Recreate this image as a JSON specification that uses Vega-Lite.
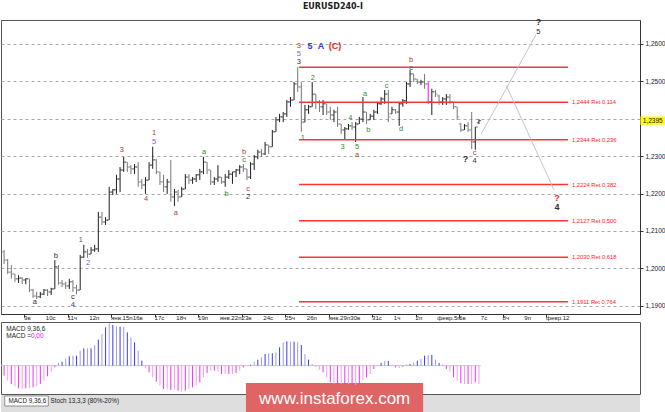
{
  "$schema": "https://vega.github.io/schema/vega-lite/v6.json",
  "padding": {"left": 0, "top": 3, "right": 0, "bottom": 0},
  "background": "white",
  "title": {"text": "EURUSD240-I", "fontSize": 8, "fontWeight": "bold", "font": "DejaVu Sans", "anchor": "middle", "offset": 6, "color": "#202020"},
  "config": {"view": {"stroke": "#555555"}, "font": "Liberation Sans"},
  "spacing": 8,
  "bounds": "flush",
  "datasets": {
    "bars": [
      {"i":0,"o":1.2044,"h":1.2049,"l":1.2012,"c":1.2022},
      {"i":1,"o":1.2022,"h":1.2025,"l":1.1985,"c":1.1990},
      {"i":2,"o":1.1990,"h":1.2009,"l":1.1972,"c":1.1985},
      {"i":3,"o":1.1985,"h":1.1985,"l":1.1964,"c":1.1972},
      {"i":4,"o":1.1972,"h":1.1982,"l":1.1961,"c":1.1974},
      {"i":5,"o":1.1974,"h":1.1977,"l":1.1958,"c":1.1969},
      {"i":6,"o":1.1969,"h":1.1974,"l":1.1958,"c":1.1972},
      {"i":7,"o":1.1972,"h":1.1972,"l":1.1937,"c":1.1942},
      {"i":8,"o":1.1942,"h":1.1945,"l":1.1921,"c":1.1926},
      {"i":9,"o":1.1926,"h":1.1937,"l":1.1918,"c":1.1924},
      {"i":10,"o":1.1924,"h":1.1937,"l":1.1921,"c":1.1931},
      {"i":11,"o":1.1931,"h":1.1945,"l":1.1929,"c":1.1942},
      {"i":12,"o":1.1942,"h":1.1945,"l":1.1926,"c":1.1937},
      {"i":13,"o":1.1937,"h":1.1948,"l":1.1929,"c":1.1945},
      {"i":14,"o":1.1945,"h":1.2022,"l":1.1945,"c":1.2004},
      {"i":15,"o":1.2004,"h":1.2009,"l":1.1956,"c":1.1961},
      {"i":16,"o":1.1961,"h":1.1969,"l":1.1950,"c":1.1958},
      {"i":17,"o":1.1958,"h":1.1964,"l":1.1945,"c":1.1953},
      {"i":18,"o":1.1953,"h":1.1972,"l":1.1945,"c":1.1964},
      {"i":19,"o":1.1964,"h":1.1969,"l":1.1937,"c":1.1948},
      {"i":20,"o":1.1948,"h":1.1956,"l":1.1931,"c":1.1942},
      {"i":21,"o":1.1942,"h":1.2036,"l":1.1942,"c":1.2030},
      {"i":22,"o":1.2030,"h":1.2063,"l":1.2028,"c":1.2044},
      {"i":23,"o":1.2044,"h":1.2052,"l":1.2028,"c":1.2038},
      {"i":24,"o":1.2038,"h":1.2057,"l":1.2038,"c":1.2049},
      {"i":25,"o":1.2049,"h":1.2063,"l":1.2044,"c":1.2052},
      {"i":26,"o":1.2052,"h":1.2151,"l":1.2044,"c":1.2137},
      {"i":27,"o":1.2137,"h":1.2151,"l":1.2116,"c":1.2124},
      {"i":28,"o":1.2124,"h":1.2137,"l":1.2116,"c":1.2129},
      {"i":29,"o":1.2129,"h":1.2218,"l":1.2129,"c":1.2204},
      {"i":30,"o":1.2204,"h":1.2212,"l":1.2196,"c":1.2210},
      {"i":31,"o":1.2210,"h":1.2250,"l":1.2199,"c":1.2239},
      {"i":32,"o":1.2239,"h":1.2271,"l":1.2204,"c":1.2263},
      {"i":33,"o":1.2263,"h":1.2298,"l":1.2258,"c":1.2284},
      {"i":34,"o":1.2284,"h":1.2284,"l":1.2258,"c":1.2271},
      {"i":35,"o":1.2271,"h":1.2276,"l":1.2252,"c":1.2266},
      {"i":36,"o":1.2266,"h":1.2279,"l":1.2252,"c":1.2271},
      {"i":37,"o":1.2271,"h":1.2284,"l":1.2218,"c":1.2231},
      {"i":38,"o":1.2231,"h":1.2239,"l":1.2212,"c":1.2223},
      {"i":39,"o":1.2223,"h":1.2244,"l":1.2199,"c":1.2236},
      {"i":40,"o":1.2236,"h":1.2284,"l":1.2236,"c":1.2276},
      {"i":41,"o":1.2276,"h":1.2325,"l":1.2266,"c":1.2290},
      {"i":42,"o":1.2290,"h":1.2292,"l":1.2252,"c":1.2258},
      {"i":43,"o":1.2258,"h":1.2258,"l":1.2223,"c":1.2231},
      {"i":44,"o":1.2231,"h":1.2250,"l":1.2204,"c":1.2218},
      {"i":45,"o":1.2218,"h":1.2239,"l":1.2199,"c":1.2231},
      {"i":46,"o":1.2231,"h":1.2290,"l":1.2178,"c":1.2191},
      {"i":47,"o":1.2191,"h":1.2212,"l":1.2167,"c":1.2204},
      {"i":48,"o":1.2204,"h":1.2210,"l":1.2178,"c":1.2191},
      {"i":49,"o":1.2191,"h":1.2218,"l":1.2191,"c":1.2212},
      {"i":50,"o":1.2212,"h":1.2252,"l":1.2212,"c":1.2244},
      {"i":51,"o":1.2244,"h":1.2252,"l":1.2226,"c":1.2236},
      {"i":52,"o":1.2236,"h":1.2244,"l":1.2226,"c":1.2239},
      {"i":53,"o":1.2239,"h":1.2252,"l":1.2231,"c":1.2250},
      {"i":54,"o":1.2250,"h":1.2266,"l":1.2236,"c":1.2258},
      {"i":55,"o":1.2258,"h":1.2298,"l":1.2252,"c":1.2284},
      {"i":56,"o":1.2284,"h":1.2284,"l":1.2252,"c":1.2263},
      {"i":57,"o":1.2263,"h":1.2263,"l":1.2223,"c":1.2231},
      {"i":58,"o":1.2231,"h":1.2244,"l":1.2223,"c":1.2239},
      {"i":59,"o":1.2239,"h":1.2276,"l":1.2231,"c":1.2244},
      {"i":60,"o":1.2244,"h":1.2244,"l":1.2226,"c":1.2231},
      {"i":61,"o":1.2231,"h":1.2252,"l":1.2218,"c":1.2244},
      {"i":62,"o":1.2244,"h":1.2263,"l":1.2239,"c":1.2252},
      {"i":63,"o":1.2252,"h":1.2258,"l":1.2226,"c":1.2258},
      {"i":64,"o":1.2258,"h":1.2266,"l":1.2244,"c":1.2263},
      {"i":65,"o":1.2263,"h":1.2276,"l":1.2252,"c":1.2271},
      {"i":66,"o":1.2271,"h":1.2279,"l":1.2258,"c":1.2266},
      {"i":67,"o":1.2266,"h":1.2266,"l":1.2236,"c":1.2244},
      {"i":68,"o":1.2244,"h":1.2284,"l":1.2239,"c":1.2279},
      {"i":69,"o":1.2279,"h":1.2303,"l":1.2263,"c":1.2298},
      {"i":70,"o":1.2298,"h":1.2317,"l":1.2292,"c":1.2311},
      {"i":71,"o":1.2311,"h":1.2319,"l":1.2298,"c":1.2306},
      {"i":72,"o":1.2306,"h":1.2338,"l":1.2303,"c":1.2330},
      {"i":73,"o":1.2330,"h":1.2330,"l":1.2306,"c":1.2325},
      {"i":74,"o":1.2325,"h":1.2370,"l":1.2325,"c":1.2365},
      {"i":75,"o":1.2365,"h":1.2405,"l":1.2365,"c":1.2397},
      {"i":76,"o":1.2397,"h":1.2413,"l":1.2391,"c":1.2405},
      {"i":77,"o":1.2405,"h":1.2418,"l":1.2391,"c":1.2413},
      {"i":78,"o":1.2413,"h":1.2450,"l":1.2405,"c":1.2445},
      {"i":79,"o":1.2445,"h":1.2458,"l":1.2432,"c":1.2450},
      {"i":80,"o":1.2450,"h":1.2498,"l":1.2450,"c":1.2493},
      {"i":81,"o":1.2493,"h":1.2538,"l":1.2472,"c":1.2485},
      {"i":82,"o":1.2485,"h":1.2498,"l":1.2365,"c":1.2391},
      {"i":83,"o":1.2391,"h":1.2437,"l":1.2391,"c":1.2424},
      {"i":84,"o":1.2424,"h":1.2437,"l":1.2413,"c":1.2432},
      {"i":85,"o":1.2432,"h":1.2498,"l":1.2432,"c":1.2466},
      {"i":86,"o":1.2466,"h":1.2466,"l":1.2426,"c":1.2445},
      {"i":87,"o":1.2445,"h":1.2450,"l":1.2418,"c":1.2432},
      {"i":88,"o":1.2432,"h":1.2450,"l":1.2410,"c":1.2440},
      {"i":89,"o":1.2440,"h":1.2440,"l":1.2410,"c":1.2418},
      {"i":90,"o":1.2418,"h":1.2432,"l":1.2397,"c":1.2410},
      {"i":91,"o":1.2410,"h":1.2424,"l":1.2391,"c":1.2418},
      {"i":92,"o":1.2418,"h":1.2432,"l":1.2378,"c":1.2386},
      {"i":93,"o":1.2386,"h":1.2386,"l":1.2359,"c":1.2370},
      {"i":94,"o":1.2370,"h":1.2378,"l":1.2346,"c":1.2373},
      {"i":95,"o":1.2373,"h":1.2386,"l":1.2370,"c":1.2381},
      {"i":96,"o":1.2381,"h":1.2391,"l":1.2370,"c":1.2378},
      {"i":97,"o":1.2378,"h":1.2391,"l":1.2338,"c":1.2386},
      {"i":98,"o":1.2386,"h":1.2405,"l":1.2386,"c":1.2399},
      {"i":99,"o":1.2399,"h":1.2458,"l":1.2391,"c":1.2418},
      {"i":100,"o":1.2418,"h":1.2418,"l":1.2386,"c":1.2397},
      {"i":101,"o":1.2397,"h":1.2413,"l":1.2397,"c":1.2407},
      {"i":102,"o":1.2407,"h":1.2424,"l":1.2397,"c":1.2418},
      {"i":103,"o":1.2418,"h":1.2445,"l":1.2413,"c":1.2440},
      {"i":104,"o":1.2440,"h":1.2458,"l":1.2437,"c":1.2453},
      {"i":105,"o":1.2453,"h":1.2477,"l":1.2440,"c":1.2466},
      {"i":106,"o":1.2466,"h":1.2477,"l":1.2391,"c":1.2405},
      {"i":107,"o":1.2413,"h":1.2432,"l":1.2413,"c":1.2424},
      {"i":108,"o":1.2424,"h":1.2426,"l":1.2413,"c":1.2418},
      {"i":109,"o":1.2418,"h":1.2445,"l":1.2381,"c":1.2440},
      {"i":110,"o":1.2440,"h":1.2453,"l":1.2432,"c":1.2448},
      {"i":111,"o":1.2448,"h":1.2498,"l":1.2440,"c":1.2493},
      {"i":112,"o":1.2493,"h":1.2530,"l":1.2485,"c":1.2520},
      {"i":113,"o":1.2520,"h":1.2520,"l":1.2498,"c":1.2506},
      {"i":114,"o":1.2506,"h":1.2506,"l":1.2493,"c":1.2498},
      {"i":115,"o":1.2498,"h":1.2504,"l":1.2490,"c":1.2498},
      {"i":116,"o":1.2498,"h":1.2520,"l":1.2480,"c":1.2493},
      {"i":117,"o":1.2493,"h":1.2498,"l":1.2440,"c":1.2445},
      {"i":118,"o":1.2445,"h":1.2480,"l":1.2410,"c":1.2472},
      {"i":119,"o":1.2472,"h":1.2477,"l":1.2458,"c":1.2466},
      {"i":120,"o":1.2461,"h":1.2464,"l":1.2437,"c":1.2445},
      {"i":121,"o":1.2445,"h":1.2458,"l":1.2437,"c":1.2453},
      {"i":122,"o":1.2453,"h":1.2466,"l":1.2437,"c":1.2458},
      {"i":123,"o":1.2458,"h":1.2466,"l":1.2440,"c":1.2445},
      {"i":124,"o":1.2445,"h":1.2445,"l":1.2426,"c":1.2432},
      {"i":125,"o":1.2432,"h":1.2432,"l":1.2397,"c":1.2405},
      {"i":126,"o":1.2386,"h":1.2389,"l":1.2365,"c":1.2370},
      {"i":127,"o":1.2370,"h":1.2386,"l":1.2370,"c":1.2381},
      {"i":128,"o":1.2381,"h":1.2391,"l":1.2365,"c":1.2370},
      {"i":129,"o":1.2370,"h":1.2418,"l":1.2319,"c":1.2338},
      {"i":130,"o":1.2338,"h":1.2378,"l":1.2317,"c":1.2378},
      {"i":131,"o":1.2389,"h":1.2399,"l":1.2386,"c":1.2395}
    ],
    "macd": [
      {"i":0,"v":-30},{"i":1,"v":-45},{"i":2,"v":-55},{"i":3,"v":-62},{"i":4,"v":-68},{"i":5,"v":-70},{"i":6,"v":-68},{"i":7,"v":-67},{"i":8,"v":-65},{"i":9,"v":-62},{"i":10,"v":-55},{"i":11,"v":-45},{"i":12,"v":-32},{"i":13,"v":-18},{"i":14,"v":-5},
      {"i":15,"v":8},{"i":16,"v":12},{"i":17,"v":22},{"i":18,"v":28},{"i":19,"v":30},{"i":20,"v":30},{"i":21,"v":45},{"i":22,"v":52},{"i":23,"v":52},{"i":24,"v":52},{"i":25,"v":62},{"i":26,"v":78},{"i":27,"v":95},{"i":28,"v":115},{"i":29,"v":127},{"i":30,"v":122},{"i":31,"v":118},{"i":32,"v":117},{"i":33,"v":116},{"i":34,"v":100},{"i":35,"v":85},{"i":36,"v":70},{"i":37,"v":45},{"i":38,"v":15},
      {"i":39,"v":-8},{"i":40,"v":-20},{"i":41,"v":-35},{"i":42,"v":-48},{"i":43,"v":-60},{"i":44,"v":-70},{"i":45,"v":-72},{"i":46,"v":-73},{"i":47,"v":-72},{"i":48,"v":-75},{"i":49,"v":-78},{"i":50,"v":-75},{"i":51,"v":-70},{"i":52,"v":-65},{"i":53,"v":-58},{"i":54,"v":-50},{"i":55,"v":-35},{"i":56,"v":-22},{"i":57,"v":-15},{"i":58,"v":-15},{"i":59,"v":-18},{"i":60,"v":-25},{"i":61,"v":-25},{"i":62,"v":-25},{"i":63,"v":-25},{"i":64,"v":-22},{"i":65,"v":-15},{"i":66,"v":-5},{"i":67,"v":-2},
      {"i":68,"v":3},{"i":69,"v":12},{"i":70,"v":18},{"i":71,"v":25},{"i":72,"v":35},{"i":73,"v":37},{"i":74,"v":37},{"i":75,"v":40},{"i":76,"v":55},{"i":77,"v":70},{"i":78,"v":73},{"i":79,"v":72},{"i":80,"v":72},{"i":81,"v":70},{"i":82,"v":62},{"i":83,"v":35},{"i":84,"v":18},{"i":85,"v":5},
      {"i":86,"v":-3},{"i":87,"v":-12},{"i":88,"v":-20},{"i":89,"v":-35},{"i":90,"v":-50},{"i":91,"v":-55},{"i":92,"v":-55},{"i":93,"v":-55},{"i":94,"v":-55},{"i":95,"v":-55},{"i":96,"v":-58},{"i":97,"v":-58},{"i":98,"v":-55},{"i":99,"v":-45},{"i":100,"v":-35},{"i":101,"v":-25},{"i":102,"v":-10},
      {"i":103,"v":2},{"i":104,"v":8},{"i":105,"v":14},{"i":106,"v":14},{"i":107,"v":3},
      {"i":108,"v":-5},{"i":109,"v":-7},{"i":110,"v":-3},
      {"i":111,"v":3},{"i":112,"v":5},{"i":113,"v":10},{"i":114,"v":15},{"i":115,"v":20},{"i":116,"v":30},{"i":117,"v":32},{"i":118,"v":32},{"i":119,"v":18},{"i":120,"v":8},{"i":121,"v":3},
      {"i":122,"v":-10},{"i":123,"v":-18},{"i":124,"v":-35},{"i":125,"v":-45},{"i":126,"v":-52},{"i":127,"v":-55},{"i":128,"v":-55},{"i":129,"v":-55},{"i":130,"v":-50},{"i":131,"v":-55}
    ],
    "days": [
      {"d":5.5,"label":"9в"},{"d":11.5,"label":"10с"},{"d":17.5,"label":"11ч"},{"d":23.5,"label":"12п"},
      {"d":29.5,"label":"янв.15п"},{"d":35.5,"label":"16в"},{"d":41.5,"label":"17с"},{"d":47.5,"label":"18ч"},
      {"d":53.5,"label":"19п"},{"d":59.5,"label":"янв.22п"},{"d":65.5,"label":"23в"},{"d":71.5,"label":"24с"},
      {"d":77.5,"label":"25ч"},{"d":83.5,"label":"26п"},{"d":89.5,"label":"янв.29п"},{"d":95.5,"label":"30в"},
      {"d":101.5,"label":"31с"},{"d":107.5,"label":"1ч"},{"d":113.5,"label":"2п"},{"d":119.5,"label":"февр.5п"},
      {"d":125.5,"label":"6в"},{"d":131.5,"label":"7с"},{"d":137.5,"label":"8ч"},{"d":143.5,"label":"9п"},
      {"d":149.5,"label":"февр.12"}
    ],
    "fibs": [
      {"level":1.2538,"label":""},
      {"level":1.2444,"label":"1,2444 Ret 0,114"},
      {"level":1.2344,"label":"1,2344 Ret 0,236"},
      {"level":1.2224,"label":"1,2224 Ret 0,382"},
      {"level":1.2127,"label":"1,2127 Ret 0,500"},
      {"level":1.2030,"label":"1,2030 Ret 0,618"},
      {"level":1.1911,"label":"1,1911 Ret 0,764"}
    ],
    "forecast": [
      {"i0":131.6,"p0":1.2359,"i1":146.7,"p1":1.2624},
      {"i0":138.5,"p0":1.2490,"i1":151.7,"p1":1.2210}
    ],
    "waves": [
      {"i":8.5,"p":1.1910,"t":"a","deg":"minute"},
      {"i":14.3,"p":1.2033,"t":"b","deg":"minute"},
      {"i":19.0,"p":1.1924,"t":"c","deg":"minute"},
      {"i":19.0,"p":1.1902,"t":"4","deg":"minor"},
      {"i":21.2,"p":1.2076,"t":"1","deg":"minuette"},
      {"i":23.2,"p":1.2014,"t":"2","deg":"alt"},
      {"i":32.5,"p":1.2317,"t":"3","deg":"minuette"},
      {"i":39.2,"p":1.2186,"t":"4","deg":"minuette"},
      {"i":41.4,"p":1.2362,"t":"1","deg":"minuette"},
      {"i":41.4,"p":1.2338,"t":"5","deg":"alt"},
      {"i":47.4,"p":1.2148,"t":"a","deg":"minuette"},
      {"i":55.2,"p":1.2311,"t":"a","deg":"subminuette"},
      {"i":61.4,"p":1.2199,"t":"b","deg":"subminuette"},
      {"i":66.2,"p":1.2311,"t":"b","deg":"minuette"},
      {"i":66.2,"p":1.2290,"t":"c","deg":"subminuette"},
      {"i":67.3,"p":1.2212,"t":"c","deg":"minuette"},
      {"i":67.3,"p":1.2191,"t":"2","deg":"minute"},
      {"i":81.3,"p":1.2595,"t":"3","deg":"minuette"},
      {"i":81.3,"p":1.2573,"t":"5","deg":"alt"},
      {"i":81.3,"p":1.2552,"t":"3","deg":"minute"},
      {"i":82.4,"p":1.2349,"t":"1","deg":"subminuette"},
      {"i":85.2,"p":1.2509,"t":"2","deg":"subminuette"},
      {"i":93.4,"p":1.2325,"t":"3","deg":"subminuette"},
      {"i":95.5,"p":1.2402,"t":"4","deg":"subminuette"},
      {"i":97.4,"p":1.2325,"t":"5","deg":"subminuette"},
      {"i":97.4,"p":1.2303,"t":"a","deg":"minuette"},
      {"i":99.6,"p":1.2466,"t":"a","deg":"subminuette"},
      {"i":100.5,"p":1.2370,"t":"b","deg":"subminuette"},
      {"i":105.5,"p":1.2488,"t":"c","deg":"subminuette"},
      {"i":109.5,"p":1.2373,"t":"d","deg":"subminuette"},
      {"i":112.3,"p":1.2557,"t":"b","deg":"minuette"},
      {"i":112.3,"p":1.2536,"t":"e","deg":"subminuette"},
      {"i":129.8,"p":1.2308,"t":"c","deg":"minuette"},
      {"i":129.8,"p":1.2286,"t":"4","deg":"minute"},
      {"i":147.4,"p":1.2633,"t":"5","deg":"minute"}
    ],
    "bigwaves": [
      {"i":84.4,"p":1.2595,"t":"5","deg":"minor"},
      {"i":87.4,"p":1.2595,"t":"A","deg":"minor"},
      {"i":91.3,"p":1.2595,"t":"(C)","deg":"intermediate"},
      {"i":127.3,"p":1.2293,"t":"?","deg":"minute"},
      {"i":147.4,"p":1.2659,"t":"?","deg":"minute"},
      {"i":152.5,"p":1.2188,"t":"?","deg":"intermediate"},
      {"i":152.5,"p":1.2164,"t":"4","deg":"minute"}
    ],
    "lastprice": [{"price":1.2395,"label":"1,2395"}],
    "panel": [{"zero":0,"name":"MACD 9,36,6","macdlabel":"MACD =","macdvalue":"0,00","tab2":"Stoch 13,3,3 (80%-20%)","site":"www.instaforex.com"}]
  },
  "vconcat": [
    {
      "width": 639,
      "height": 294,
      "layer": [
        {
          "data": {"name": "bars"},
          "mark": {"type": "rule", "strokeWidth": 1},
          "encoding": {
            "x": {"field": "i", "type": "quantitative",
              "scale": {"domain": [-0.845, 175.43], "nice": false, "zero": false},
              "axis": {"orient": "bottom", "title": null, "grid": false, "labels": false,
                "values": [5.5,11.5,17.5,23.5,29.5,35.5,41.5,47.5,53.5,59.5,65.5,71.5,77.5,83.5,89.5,95.5,101.5,107.5,113.5,119.5,125.5,131.5,137.5,143.5,149.5],
                "tickSize": 3, "tickColor": "#333333", "domainColor": "#333333"}},
            "y": {"field": "l", "type": "quantitative",
              "scale": {"domain": [1.1878, 1.2664], "nice": false, "zero": false},
              "axis": {"orient": "right", "title": null,
                "values": [1.19, 1.20, 1.21, 1.22, 1.23, 1.24, 1.25, 1.26],
                "labelExpr": "abs(datum.value - 1.24) < 0.0001 ? '' : replace(format(datum.value, '.4f'), '.', ',')",
                "grid": true, "gridDash": [3, 3], "gridColor": "#a8a8a8", "gridWidth": 1,
                "tickSize": 3, "tickColor": "#333333", "domainColor": "#333333",
                "labelFontSize": 6.5, "labelColor": "#222222", "labelPadding": 2, "labelFont": "Liberation Sans"}},
            "y2": {"field": "h"},
            "color": {"condition": [{"test": "datum.i === 117", "value": "#ff00ff"}, {"test": "datum.c >= datum.o", "value": "#1e1e1e"}], "value": "#767676"}
          }
        },
        {
          "data": {"name": "bars"},
          "mark": {"type": "tick", "orient": "horizontal", "size": 2, "thickness": 1, "xOffset": -1.2},
          "encoding": {
            "x": {"field": "i", "type": "quantitative"},
            "y": {"field": "o", "type": "quantitative"},
            "color": {"condition": [{"test": "datum.i === 117", "value": "#ff00ff"}, {"test": "datum.c >= datum.o", "value": "#1e1e1e"}], "value": "#767676"}
          }
        },
        {
          "data": {"name": "bars"},
          "mark": {"type": "tick", "orient": "horizontal", "size": 2, "thickness": 1, "xOffset": 1.2},
          "encoding": {
            "x": {"field": "i", "type": "quantitative"},
            "y": {"field": "c", "type": "quantitative"},
            "color": {"condition": [{"test": "datum.i === 117", "value": "#ff00ff"}, {"test": "datum.c >= datum.o", "value": "#1e1e1e"}], "value": "#767676"}
          }
        },
        {
          "data": {"name": "days"},
          "mark": {"type": "text", "align": "left", "baseline": "top", "fontSize": 6.1, "color": "#222222", "font": "Liberation Sans"},
          "encoding": {
            "x": {"field": "d", "type": "quantitative"},
            "y": {"datum": 1.18745},
            "text": {"field": "label"}
          }
        },
        {
          "data": {"name": "fibs"},
          "mark": {"type": "rule", "color": "#ff3535", "strokeWidth": 1.5},
          "encoding": {
            "x": {"datum": 81.36},
            "x2": {"datum": 155.57},
            "y": {"field": "level", "type": "quantitative"}
          }
        },
        {
          "data": {"name": "fibs"},
          "mark": {"type": "text", "align": "left", "baseline": "middle", "fontSize": 5.8, "color": "#ff2020", "font": "Liberation Sans"},
          "encoding": {
            "x": {"datum": 156.67},
            "y": {"field": "level", "type": "quantitative"},
            "text": {"field": "label"}
          }
        },
        {
          "data": {"name": "forecast"},
          "mark": {"type": "rule", "color": "#c4c4c4", "strokeWidth": 1},
          "encoding": {
            "x": {"field": "i0", "type": "quantitative"},
            "y": {"field": "p0", "type": "quantitative"},
            "x2": {"field": "i1"},
            "y2": {"field": "p1"}
          }
        },
        {
          "data": {"name": "waves"},
          "mark": {"type": "text", "align": "center", "baseline": "middle", "fontSize": 7.5, "font": "Liberation Sans"},
          "encoding": {
            "x": {"field": "i", "type": "quantitative"},
            "y": {"field": "p", "type": "quantitative"},
            "text": {"field": "t"},
            "color": {"field": "deg", "type": "nominal", "legend": null,
              "scale": {"domain": ["minute", "minor", "minuette", "subminuette", "alt", "intermediate"],
                        "range": ["#303030", "#3535e0", "#a8452a", "#2e8b2e", "#8a5fc8", "#e02828"]}}
          }
        },
        {
          "data": {"name": "bigwaves"},
          "mark": {"type": "text", "align": "center", "baseline": "middle", "fontSize": 9, "fontWeight": "bold", "font": "Liberation Sans"},
          "encoding": {
            "x": {"field": "i", "type": "quantitative"},
            "y": {"field": "p", "type": "quantitative"},
            "text": {"field": "t"},
            "color": {"field": "deg", "type": "nominal", "legend": null}
          }
        },
        {
          "data": {"name": "lastprice"},
          "mark": {"type": "rect", "color": "#ffff00"},
          "encoding": {
            "x": {"datum": 175.55},
            "x2": {"datum": 182.4},
            "y": {"datum": 1.2384},
            "y2": {"datum": 1.2406}
          }
        },
        {
          "data": {"name": "lastprice"},
          "mark": {"type": "text", "align": "left", "baseline": "middle", "fontSize": 6.5, "color": "#111111", "font": "Liberation Sans"},
          "encoding": {
            "x": {"datum": 176.2},
            "y": {"field": "price", "type": "quantitative"},
            "text": {"field": "label"}
          }
        }
      ]
    },
    {
      "width": 639,
      "height": 72,
      "layer": [
        {
          "data": {"name": "panel"},
          "mark": {"type": "rect", "color": "#dedede"},
          "encoding": {
            "x": {"datum": -0.845, "type": "quantitative", "scale": {"domain": [-0.845, 175.43], "nice": false, "zero": false}, "axis": null},
            "x2": {"datum": 175.43},
            "y": {"datum": -88, "type": "quantitative", "scale": {"domain": [-85, 131], "nice": false, "zero": false}, "axis": null},
            "y2": {"datum": -142}
          }
        },
        {
          "data": {"name": "panel"},
          "mark": {"type": "rect", "color": "#ffffff", "stroke": "#777777", "strokeWidth": 0.8},
          "encoding": {
            "x": {"datum": 0.2},
            "x2": {"datum": 12.2},
            "y": {"datum": -91},
            "y2": {"datum": -121}
          }
        },
        {
          "data": {"name": "panel"},
          "mark": {"type": "text", "align": "left", "baseline": "middle", "fontSize": 6.3, "color": "#222222"},
          "encoding": {"x": {"datum": 1.2}, "y": {"datum": -106}, "text": {"field": "name"}}
        },
        {
          "data": {"name": "panel"},
          "mark": {"type": "text", "align": "left", "baseline": "middle", "fontSize": 6.3, "color": "#222222"},
          "encoding": {"x": {"datum": 12.8}, "y": {"datum": -106}, "text": {"field": "tab2"}}
        },
        {
          "data": {"name": "panel"},
          "mark": {"type": "rect", "color": "#e06464"},
          "encoding": {"x": {"datum": 66.73}, "x2": {"datum": 115.6}, "y": {"datum": -52}, "y2": {"datum": -160}}
        },
        {
          "data": {"name": "panel"},
          "mark": {"type": "text", "align": "center", "baseline": "middle", "fontSize": 17, "color": "#ffffff", "font": "Liberation Sans"},
          "encoding": {"x": {"datum": 91.2}, "y": {"datum": -101}, "text": {"field": "site"}}
        },
        {
          "data": {"name": "panel"},
          "mark": {"type": "rule", "color": "#c8c8c8", "strokeWidth": 1},
          "encoding": {"x": {"datum": -0.845}, "x2": {"datum": 131.5}, "y": {"field": "zero", "type": "quantitative"}}
        },
        {
          "data": {"name": "macd"},
          "mark": {"type": "rule", "strokeWidth": 1},
          "encoding": {
            "x": {"field": "i", "type": "quantitative"},
            "y": {"field": "v", "type": "quantitative"},
            "y2": {"datum": 0},
            "color": {"condition": [
              {"test": "datum.v >= 0 && datum.i % 2 === 0", "value": "#3a3aee"},
              {"test": "datum.v >= 0", "value": "#9a9af5"},
              {"test": "datum.i % 2 === 0", "value": "#ee33ee"}], "value": "#f59af5"}
          }
        },
        {
          "data": {"name": "panel"},
          "mark": {"type": "text", "align": "left", "baseline": "middle", "fontSize": 6.5, "color": "#222222"},
          "encoding": {"x": {"datum": 0.6}, "y": {"datum": 110}, "text": {"field": "name"}}
        },
        {
          "data": {"name": "panel"},
          "mark": {"type": "text", "align": "left", "baseline": "middle", "fontSize": 6.5, "color": "#222222"},
          "encoding": {"x": {"datum": 0.6}, "y": {"datum": 89}, "text": {"field": "macdlabel"}}
        },
        {
          "data": {"name": "panel"},
          "mark": {"type": "text", "align": "left", "baseline": "middle", "fontSize": 6.5, "color": "#ff00ff"},
          "encoding": {"x": {"datum": 7.4}, "y": {"datum": 89}, "text": {"field": "macdvalue"}}
        }
      ]
    }
  ]
}
